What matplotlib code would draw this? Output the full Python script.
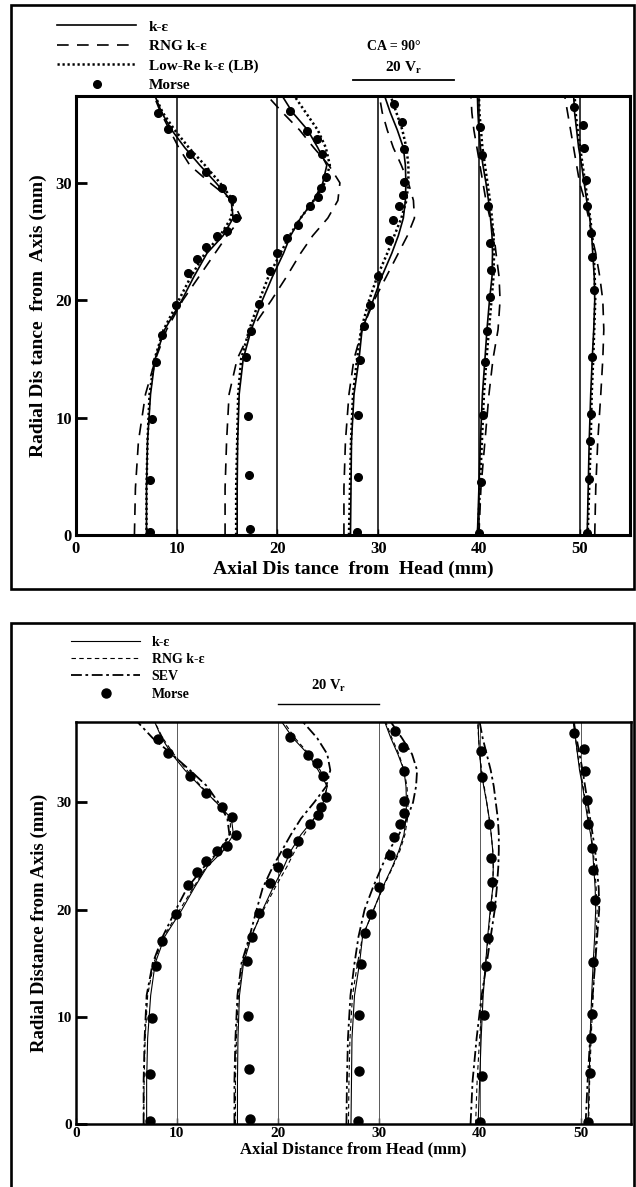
import matplotlib
matplotlib.use("Agg")
import matplotlib.pyplot as plt
from matplotlib.patches import Rectangle

plt.rcParams['font.family'] = ['Liberation Serif', 'DejaVu Serif']
plt.rcParams['font.weight'] = 'bold'
plt.rcParams['mathtext.fontset'] = 'custom'
plt.rcParams['mathtext.rm'] = 'Liberation Serif:bold'
plt.rcParams['mathtext.it'] = 'Liberation Serif:bold'

# measuring stations (mm from head) and radial grid of the model curves
stations = [10, 20, 30, 40, 50]
r_model = [0, 4, 8, 12, 15, 17.5, 20, 22, 24, 25.5, 27, 28.5, 30, 31.5, 33, 34.5, 36, 37.5]

# standard k-eps, axial position of the profile at each station
ke_x = [
    [7.0, 7.0, 7.1, 7.4, 7.85, 8.8, 10.5, 11.7, 13.0, 14.6, 15.6, 15.4, 13.9, 12.3, 10.8, 9.5, 8.5, 7.8],
    [16.0, 16.0, 16.05, 16.2, 16.6, 17.4, 18.5, 19.5, 20.6, 21.3, 22.3, 23.6, 24.5, 24.9, 24.0, 23.0, 21.5, 20.4],
    [27.25, 27.3, 27.35, 27.6, 28.1, 28.4, 29.5, 30.35, 31.35, 32.0, 32.5, 32.7, 32.75, 32.7, 32.5, 31.9, 31.2, 30.6],
    [39.85, 40.0, 40.15, 40.35, 40.6, 40.8, 41.05, 41.3, 41.35, 41.3, 41.15, 40.95, 40.7, 40.4, 40.15, 40.0, 39.9, 39.85],
    [50.75, 50.85, 50.95, 51.1, 51.25, 51.4, 51.5, 51.45, 51.3, 51.2, 51.0, 50.7, 50.45, 50.2, 49.9, 49.7, 49.5, 49.4],
]

# RNG k-eps, upper plot
rng_x = [
    [5.8, 5.9, 6.2, 6.9, 7.9, 9.0, 10.6, 12.2, 13.8, 15.0, 16.4, 15.5, 13.3, 11.3, 10.2, 9.3, 8.4, 7.7],
    [14.8, 14.8, 14.95, 15.2, 16.0, 17.4, 19.4, 20.9, 22.3, 23.5, 25.0, 26.0, 26.2, 25.1, 23.6, 22.2, 20.5, 18.9],
    [26.6, 26.6, 26.75, 27.1, 27.6, 28.4, 29.6, 30.8, 32.0, 32.9, 33.6, 33.5, 33.0, 32.3, 31.5, 30.9, 30.4, 30.1],
    [40.0, 40.2, 40.6, 41.0, 41.4, 41.9, 42.1, 42.0, 41.7, 41.5, 41.1, 40.7, 40.4, 40.1, 39.8, 39.5, 39.3, 39.2],
    [51.5, 51.6, 51.8, 52.1, 52.3, 52.4, 52.3, 52.0, 51.6, 51.2, 50.9, 50.5, 50.0, 49.7, 49.4, 49.1, 48.8, 48.5],
]

# Low-Re k-eps (Lam-Bremhorst)
lb_x = [
    [7.0, 7.0, 7.1, 7.3, 7.8, 8.7, 10.2, 11.4, 12.8, 14.3, 15.4, 15.6, 14.3, 12.8, 11.2, 9.8, 8.6, 7.8],
    [15.9, 15.9, 16.0, 16.1, 16.4, 17.2, 18.2, 19.1, 20.3, 21.2, 22.3, 23.6, 24.7, 25.2, 24.8, 24.0, 22.8, 21.6],
    [27.1, 27.2, 27.3, 27.5, 27.9, 28.3, 29.1, 29.9, 30.9, 31.6, 32.3, 32.8, 33.0, 33.0, 32.8, 32.4, 31.8, 31.2],
    [39.9, 40.1, 40.3, 40.5, 40.75, 41.0, 41.25, 41.45, 41.5, 41.45, 41.3, 41.1, 40.85, 40.6, 40.35, 40.2, 40.05, 40.0],
    [50.8, 50.95, 51.1, 51.2, 51.35, 51.45, 51.55, 51.5, 51.4, 51.25, 51.05, 50.8, 50.55, 50.3, 50.05, 49.8, 49.6, 49.5],
]

# RNG k-eps, lower plot
rng2_x = [
    [6.7, 6.75, 6.85, 7.1, 7.7, 8.7, 10.3, 11.6, 12.9, 14.2, 15.3, 15.3, 13.9, 12.4, 11.0, 9.7, 8.6, 7.8],
    [15.8, 15.8, 15.9, 16.1, 16.5, 17.3, 18.6, 19.7, 20.9, 21.7, 22.6, 23.6, 24.5, 24.9, 24.2, 23.1, 21.7, 20.6],
    [27.0, 27.05, 27.15, 27.4, 27.9, 28.4, 29.5, 30.4, 31.4, 32.1, 32.6, 32.85, 32.9, 32.8, 32.5, 32.0, 31.3, 30.7],
    [39.6, 39.75, 40.0, 40.3, 40.6, 40.85, 41.1, 41.3, 41.35, 41.3, 41.15, 40.95, 40.7, 40.45, 40.2, 40.0, 39.9, 39.8],
    [50.8, 50.9, 51.05, 51.25, 51.4, 51.55, 51.65, 51.55, 51.4, 51.25, 51.05, 50.8, 50.5, 50.25, 50.0, 49.7, 49.5, 49.3],
]

# SEV model
sev_x = [
    [6.7, 6.7, 6.8, 7.0, 7.6, 8.6, 9.9, 11.0, 12.7, 14.2, 15.2, 15.0, 14.1, 13.0, 11.3, 9.5, 7.6, 6.1],
    [15.7, 15.7, 15.8, 16.0, 16.4, 17.2, 17.9, 18.5, 19.5, 20.4, 21.3, 22.3, 23.6, 24.8, 25.2, 24.9, 23.9, 22.5],
    [26.8, 26.85, 26.95, 27.2, 27.6, 28.0, 28.6, 29.4, 30.3, 31.0, 32.0, 32.8, 33.4, 33.7, 33.8, 33.3, 32.3, 31.2],
    [39.1, 39.3, 39.7, 40.2, 40.7, 41.1, 41.5, 41.7, 41.85, 41.9, 41.9, 41.8, 41.6, 41.4, 41.1, 40.7, 40.3, 40.0],
    [50.5, 50.7, 50.95, 51.2, 51.45, 51.65, 51.85, 51.8, 51.6, 51.45, 51.2, 50.95, 50.7, 50.45, 50.2, 49.9, 49.6, 49.3],
]

# Morse measurements: radius and axial position per station
morse_r = [
    [0.25, 4.7, 9.9, 14.7, 17.07, 19.6, 22.3, 23.5, 24.5, 25.5, 25.9, 27.0, 28.6, 29.6, 30.9, 32.45, 34.6, 35.96],
    [0.5, 5.1, 10.1, 15.2, 17.4, 19.7, 22.5, 24.0, 25.3, 26.4, 28.0, 28.8, 29.55, 30.5, 32.5, 33.7, 34.4, 36.1],
    [0.25, 4.9, 10.2, 14.9, 17.8, 19.6, 22.1, 25.1, 26.8, 28.0, 29.0, 30.1, 32.9, 35.2, 36.7],
    [0.15, 4.5, 10.2, 14.7, 17.35, 20.3, 22.6, 24.85, 28.0, 32.4, 34.8],
    [0.15, 4.75, 8.0, 10.3, 15.15, 20.85, 23.7, 25.7, 28.0, 30.25, 32.96, 34.95, 36.5],
]
morse_x = [
    [7.33, 7.33, 7.5, 7.96, 8.5, 9.95, 11.1, 12.0, 12.9, 14.0, 15.0, 15.9, 15.5, 14.45, 12.86, 11.3, 9.12, 8.12],
    [17.26, 17.16, 17.06, 16.9, 17.4, 18.15, 19.25, 20.0, 20.9, 22.0, 23.2, 24.0, 24.3, 24.8, 24.45, 23.9, 22.96, 21.2],
    [27.9, 28.0, 28.0, 28.2, 28.6, 29.2, 30.0, 31.1, 31.5, 32.06, 32.5, 32.55, 32.55, 32.4, 31.6],
    [40.0, 40.2, 40.4, 40.6, 40.8, 41.1, 41.2, 41.1, 40.9, 40.27, 40.1],
    [50.75, 50.9, 51.0, 51.15, 51.25, 51.4, 51.25, 51.1, 50.75, 50.6, 50.4, 50.3, 49.4],
]

xticks = [0, 10, 20, 30, 40, 50]
yticks = [0, 10, 20, 30]

W, H = 636, 1187
fig = plt.figure(figsize=(W / 100, H / 100), dpi=100)


def box(l, t, r, b):
    return [l / W, 1 - b / H, (r - l) / W, (b - t) / H]


# outer frames round each plot
fig.patches.append(Rectangle((11 / W, 1 - 589 / H), 623 / W, 584 / H, transform=fig.transFigure,
                             fill=False, lw=1.9, ec='black'))
fig.patches.append(Rectangle((11 / W, -0.05), 623 / W, 1 - 623 / H + 0.05, transform=fig.transFigure,
                             fill=False, lw=1.9, ec='black'))


def setup(ax, ytop, spine_w, fs, xpad):
    ax.set_xlim(0, 55)
    ax.set_ylim(0, ytop)
    ax.set_xticks(xticks)
    ax.set_yticks(yticks)
    for s in ax.spines.values():
        s.set_linewidth(spine_w)
    ax.tick_params(axis='y', direction='in', length=8, width=2, labelsize=fs, pad=3)
    ax.tick_params(axis='x', direction='in', length=4, width=1, labelsize=fs, pad=xpad)
    for lab in ax.get_xticklabels() + ax.get_yticklabels():
        lab.set_fontweight('bold')


# ---------------- upper plot ----------------
ax1 = fig.add_axes(box(76, 96, 630, 535))
setup(ax1, 37.4, 2.2, 12, 4)
for s in stations:
    ax1.axvline(s, color='black', lw=1.1)
for i in range(5):
    l1, = ax1.plot(ke_x[i], r_model, color='black', lw=1.2)
    l2, = ax1.plot(rng_x[i], r_model, color='black', lw=1.2, dashes=(7, 5))
    l3, = ax1.plot(lb_x[i], r_model, color='black', lw=1.8, dashes=(0.9, 1.1))
    l4, = ax1.plot(morse_x[i], morse_r[i], 'o', color='black', ms=5.5, ls='none')
ax1.set_xlabel('Axial Dis tance  from  Head (mm)', fontsize=14, fontweight='bold', labelpad=3)
ax1.set_ylabel('Radial Dis tance  from  Axis (mm)', fontsize=14, fontweight='bold', labelpad=6)

fig.legend([l1, l2, l3, l4], ['k-ε', 'RNG k-ε', 'Low-Re k-ε (LB)', 'Morse'],
           loc='upper left', bbox_to_anchor=(57 / W, 1 - 20 / H), frameon=False,
           handlelength=5.2, handletextpad=0.8, labelspacing=0.38, borderpad=0,
           borderaxespad=0, numpoints=1, prop={'size': 11, 'weight': 'bold'})

fig.text(394 / W, 1 - 46 / H, 'CA = 90°', ha='center', va='center', fontsize=10, fontweight='bold')
ax1.text(32.5, 1.065, '20 V$_\\mathrm{r}$', transform=ax1.get_xaxis_transform(),
         ha='center', va='center', fontsize=11, fontweight='bold')
ax1.plot([27.5, 37.5], [1.037, 1.037], transform=ax1.get_xaxis_transform(),
         color='black', lw=1.3, clip_on=False)

# ---------------- lower plot ----------------
ax2 = fig.add_axes(box(76, 722, 631, 1124))
setup(ax2, 37.5, 1.8, 11, 2)
for s in stations:
    ax2.axvline(s, color='0.35', lw=0.7)
for i in range(5):
    m1, = ax2.plot(ke_x[i], r_model, color='black', lw=0.8)
    m2, = ax2.plot(rng2_x[i], r_model, color='black', lw=0.8, dashes=(4, 3))
    m3, = ax2.plot(sev_x[i], r_model, color='black', lw=1.3, dashes=(6, 2, 1.5, 2))
    m4, = ax2.plot(morse_x[i], morse_r[i], 'o', color='black', ms=6.5, ls='none')
ax2.set_xlabel('Axial Distance from Head (mm)', fontsize=12, fontweight='bold', labelpad=1)
ax2.set_ylabel('Radial Distance from Axis (mm)', fontsize=13.5, fontweight='bold', labelpad=6)

fig.legend([m1, m2, m3, m4], ['k-ε', 'RNG k-ε', 'SEV', 'Morse'],
           loc='upper left', bbox_to_anchor=(71 / W, 1 - 636 / H), frameon=False,
           handlelength=5.0, handletextpad=0.8, labelspacing=0.3, borderpad=0,
           borderaxespad=0, numpoints=1, prop={'size': 10, 'weight': 'bold'})

ax2.text(25, 1.09, '20 V$_\\mathrm{r}$', transform=ax2.get_xaxis_transform(),
         ha='center', va='center', fontsize=10.5, fontweight='bold')
ax2.plot([20, 30], [1.045, 1.045], transform=ax2.get_xaxis_transform(),
         color='black', lw=1.0, clip_on=False)

fig.savefig('out.png', dpi=100)
